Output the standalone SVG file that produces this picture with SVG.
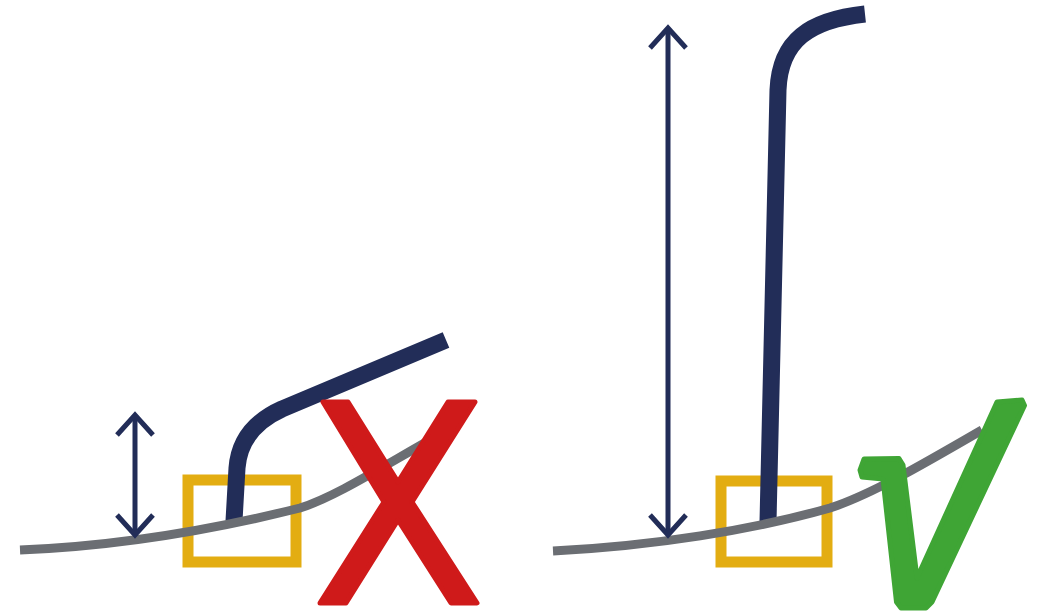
<svg xmlns="http://www.w3.org/2000/svg" width="1038" height="616" viewBox="0 0 1038 616">
<style>
.frame{fill:none;stroke:#e3ad12;stroke-width:11}
.ground{fill:none;stroke:#6b6e73;stroke-width:9}
.stem{fill:none;stroke:#222d58;stroke-width:17;stroke-linecap:butt;stroke-linejoin:round}
.dim{fill:none;stroke:#222d58;stroke-width:5}
.cross{fill:#cf1a1a;stroke:#cf1a1a;stroke-width:5;stroke-linejoin:round}
.check{fill:#3fa535;stroke:#3fa535;stroke-width:5;stroke-linejoin:round}
</style>
<defs>
<marker id="chev" viewBox="-30 -25 40 50" refX="0" refY="0" markerWidth="40" markerHeight="50" markerUnits="userSpaceOnUse" orient="auto-start-reverse" overflow="visible">
<path d="M-20,-18 L0,0 L-20,18" fill="none" stroke="#222d58" stroke-width="5"/>
</marker>
</defs>
<rect width="1038" height="616" fill="#ffffff"/>
<g id="left-panel">
<rect id="left-frame" class="frame" x="188" y="480" width="108" height="82"/>
<path id="left-stem" class="stem" d="M234,521 L237,468 Q240,428 282,409 L446,340"/>
<path id="left-ground" class="ground" d="M20,550 C120,546 220,528 300,508 C335,497 380,468 437,436"/>
<polygon id="left-cross" class="cross" points="323,402 348,402 398,482 448,402 475,402 412,502 477,603 451,603 398,520 346,603 320,603 384,502"/>
</g>
<g id="right-panel">
<rect id="right-frame" class="frame" x="721" y="481" width="106" height="81"/>
<path id="right-stem" class="stem" d="M768,522 L778,90 C780,40 810,20 865,14"/>
<path id="right-ground" class="ground" d="M553,551 C653,546 753,530 830,508 C870,495 920,466 982,430"/>
<polygon id="right-check" class="check" points="864,459 899,458.5 903,465 917,578 997,402 1022,400 1024.5,405.5 932,602 926,608 901,608 896.5,602 883,479 862,477 860,470"/>
</g>
<g id="connectors">
<line class="dim" x1="135" y1="415" x2="135" y2="535" marker-start="url(#chev)" marker-end="url(#chev)"/>
<line class="dim" x1="668" y1="28" x2="668" y2="535" marker-start="url(#chev)" marker-end="url(#chev)"/>
</g>
</svg>
